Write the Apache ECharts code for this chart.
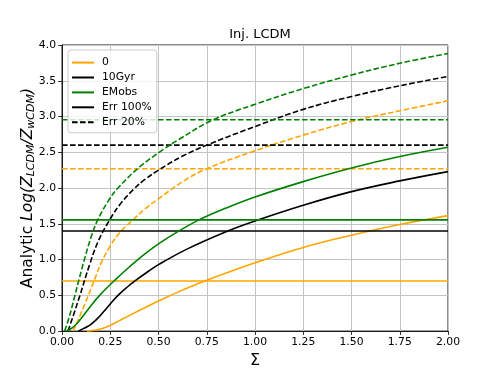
<!DOCTYPE html>
<html><head><meta charset="utf-8">
<script src="https://cdn.jsdelivr.net/npm/echarts@6/dist/echarts.min.js"></script>
<style>html,body{margin:0;padding:0;background:#fff}#c{width:498px;height:374px}</style>
</head><body><div id="c"></div><script>
// ---------------- data ----------------
const chartTitle = 'Inj. LCDM';
const legendNames = ['0', '10Gyr', 'EMobs', 'Err 100%', 'Err 20%'];

// analytic curves, Err 100% (solid)
const x0Err100 = [0.13, 0.2, 0.25, 0.3, 0.35, 0.45, 0.5, 0.6, 0.75, 1.0, 1.25, 1.5, 1.75, 2.0];
const y0Err100 = [0, 0.03, 0.08, 0.15, 0.22, 0.355, 0.42, 0.545, 0.71, 0.955, 1.17, 1.34, 1.49, 1.615];

const x10GyrErr100 = [0.085, 0.1, 0.13, 0.15, 0.178, 0.22, 0.25, 0.29, 0.34, 0.385, 0.45, 0.5, 0.65, 0.85, 1.0, 1.25, 1.5, 1.75, 2.0];
const y10GyrErr100 = [0, 0.02, 0.06, 0.095, 0.16, 0.285, 0.38, 0.5, 0.62, 0.715, 0.84, 0.93, 1.15, 1.39, 1.54, 1.76, 1.95, 2.10, 2.23];

const xEMobsErr100 = [0.023, 0.05, 0.075, 0.1, 0.15, 0.195, 0.273, 0.35, 0.42, 0.5, 0.6, 0.71, 0.85, 1.0, 1.25, 1.5, 1.75, 2.0];
const yEMobsErr100 = [0, 0.04, 0.1, 0.18, 0.356, 0.5, 0.71, 0.90, 1.06, 1.22, 1.39, 1.555, 1.72, 1.875, 2.09, 2.28, 2.44, 2.57];

// analytic curves, Err 20% (dashed)
const x0Err20 = [0.057, 0.08, 0.1, 0.135, 0.17, 0.204, 0.25, 0.3, 0.37, 0.43, 0.5, 0.62, 0.75, 1.0, 1.25, 1.5, 1.75, 2.0];
const y0Err20 = [0, 0.13, 0.26, 0.49, 0.73, 0.96, 1.19, 1.38, 1.56, 1.71, 1.85, 2.08, 2.27, 2.52, 2.74, 2.93, 3.08, 3.22];

const x10GyrErr20 = [0.031, 0.06, 0.092, 0.143, 0.19, 0.247, 0.3, 0.37, 0.43, 0.5, 0.62, 0.75, 1.0, 1.25, 1.5, 1.75, 2.0];
const y10GyrErr20 = [0, 0.23, 0.49, 0.93, 1.27, 1.555, 1.77, 1.98, 2.12, 2.25, 2.44, 2.60, 2.86, 3.10, 3.28, 3.43, 3.56];

const xEMobsErr20 = [0.014, 0.04, 0.066, 0.09, 0.118, 0.155, 0.185, 0.24, 0.29, 0.4, 0.52, 0.6, 0.78, 1.0, 1.25, 1.5, 1.75, 2.0];
const yEMobsErr20 = [0, 0.22, 0.49, 0.74, 1.02, 1.35, 1.555, 1.82, 2.0, 2.29, 2.53, 2.67, 2.95, 3.17, 3.39, 3.58, 3.745, 3.88];

// horizontal reference levels
const modelNames = ['0', '10Gyr', 'EMobs'];
const levelErr100 = [0.70, 1.40, 1.555];
const levelErr20 = [2.27, 2.60, 2.955];
const xRange = [0, 2];

// ---------------- styles ----------------
const modelColors = ['#ffa500', '#000000', '#008000'];
const FONT = 'DejaVu Sans';
const LW = 1.6;
const DASH = [5.6, 2.4];
const SMOOTH = 0.4;

const pairs = (xs, ys) => xs.map((x, i) => [x, ys[i]]);
const curvesErr100 = [pairs(x0Err100, y0Err100), pairs(x10GyrErr100, y10GyrErr100), pairs(xEMobsErr100, yEMobsErr100)];
const curvesErr20 = [pairs(x0Err20, y0Err20), pairs(x10GyrErr20, y10GyrErr20), pairs(xEMobsErr20, yEMobsErr20)];

const series = [];
modelNames.forEach((name, k) => {
  const base = { type: 'line', symbol: 'none', silent: true, clip: true };
  series.push(Object.assign({}, base, {
    name: name, data: curvesErr100[k], smooth: SMOOTH,
    lineStyle: { color: modelColors[k], width: LW, type: 'solid' }, itemStyle: { color: modelColors[k] }
  }));
  series.push(Object.assign({}, base, {
    name: name + ' level (Err 100%)', data: xRange.map(x => [x, levelErr100[k]]),
    lineStyle: { color: modelColors[k], width: LW, type: 'solid' }, itemStyle: { color: modelColors[k] }
  }));
  series.push(Object.assign({}, base, {
    name: name + ' (Err 20%)', data: curvesErr20[k], smooth: SMOOTH,
    lineStyle: { color: modelColors[k], width: LW, type: DASH }, itemStyle: { color: modelColors[k] }
  }));
  series.push(Object.assign({}, base, {
    name: name + ' level (Err 20%)', data: xRange.map(x => [x, levelErr20[k]]),
    lineStyle: { color: modelColors[k], width: LW, type: DASH }, itemStyle: { color: modelColors[k] }
  }));
});
// style-only legend entries
series.push({ type: 'line', name: 'Err 100%', data: [], symbol: 'none', lineStyle: { color: '#000', width: LW, type: 'solid' }, itemStyle: { color: '#000' } });
series.push({ type: 'line', name: 'Err 20%', data: [], symbol: 'none', lineStyle: { color: '#000', width: LW, type: DASH }, itemStyle: { color: '#000' } });

const chart = echarts.init(document.getElementById('c'), null, { renderer: 'canvas' });
chart.setOption({
  animation: false,
  backgroundColor: '#fff',
  title: {
    text: chartTitle, left: 255, top: 23, textAlign: 'center',
    textStyle: { fontFamily: FONT, fontSize: 13, fontWeight: 'normal', color: '#000' }
  },
  legend: {
    data: legendNames, orient: 'vertical', left: 68, top: 50,
    itemWidth: 22, itemHeight: 14, itemGap: 3.7, padding: [7, 5, 5, 3],
    backgroundColor: 'rgba(255,255,255,0.8)', borderColor: '#cccccc', borderWidth: 1, borderRadius: 3,
    selectedMode: false,
    itemStyle: { color: 'rgba(0,0,0,0)', borderWidth: 0, opacity: 0 },
    textStyle: { fontFamily: FONT, fontSize: 10.8, color: '#000', padding: [0, 0, 0, 3] }
  },
  grid: {
    left: 62, top: 45, width: 386, height: 287, containLabel: false,
    show: true, borderColor: '#1a1a1a', borderWidth: 1, backgroundColor: 'transparent'
  },
  xAxis: {
    type: 'value', min: 0, max: 2, interval: 0.25,
    name: 'Σ', nameLocation: 'middle', nameGap: 20,
    nameTextStyle: { fontFamily: FONT, fontSize: 16, color: '#000' },
    axisLine: { show: true, onZero: false, lineStyle: { color: '#1a1a1a', width: 1 } },
    axisTick: { show: true, inside: false, length: 3.8, lineStyle: { color: '#1a1a1a', width: 0.9 } },
    axisLabel: { margin: 6, fontFamily: FONT, fontSize: 10.8, color: '#000', formatter: v => v.toFixed(2) },
    splitLine: { show: true, lineStyle: { color: '#c4c4c4', width: 1 } }
  },
  yAxis: {
    type: 'value', min: 0, max: 4, interval: 0.5,
    name: '{a|Analytic }{i|Log(Z}{s|LCDM}{i|/Z}{s|wCDM}{i|)}',
    nameLocation: 'middle', nameGap: 25, nameRotate: 90, nameMoveOverlap: false,
    nameTextStyle: {
      fontFamily: FONT, fontSize: 15.5, color: '#000',
      rich: {
        a: { fontFamily: FONT, fontSize: 15.5, color: '#000', lineHeight: 19, verticalAlign: 'middle' },
        i: { fontFamily: FONT, fontSize: 15.5, fontStyle: 'italic', color: '#000', lineHeight: 19, verticalAlign: 'middle' },
        s: { fontFamily: FONT, fontSize: 11, fontStyle: 'italic', color: '#000', verticalAlign: 'bottom' }
      }
    },
    axisLine: { show: true, onZero: false, lineStyle: { color: '#1a1a1a', width: 1 } },
    axisTick: { show: true, inside: false, length: 3.8, lineStyle: { color: '#1a1a1a', width: 0.9 } },
    axisLabel: { margin: 6, fontFamily: FONT, fontSize: 10.8, color: '#000', formatter: v => v.toFixed(1) },
    splitLine: { show: true, lineStyle: { color: '#c4c4c4', width: 1 } }
  },
  series: series
});
</script></body></html>
